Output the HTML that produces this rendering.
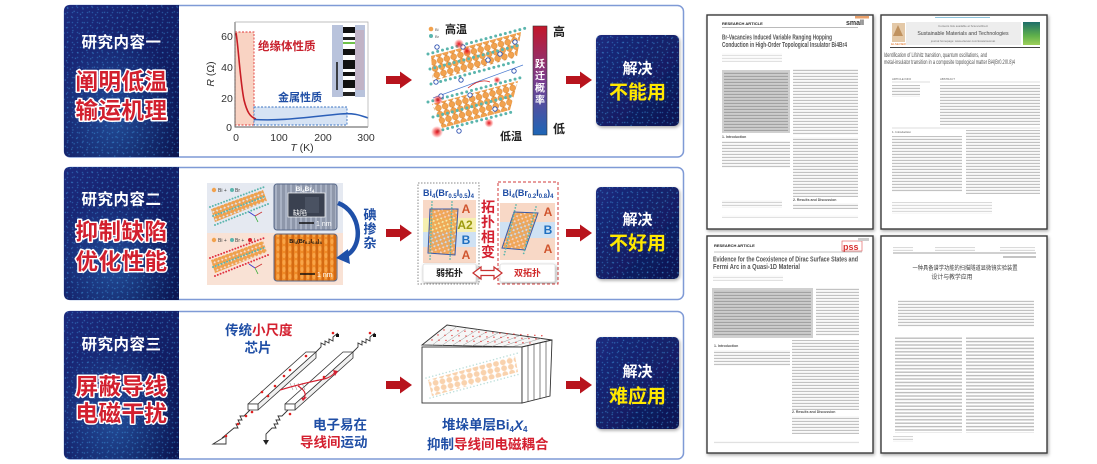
<!DOCTYPE html>
<html><head><meta charset="utf-8">
<style>
html,body{margin:0;padding:0;background:#fff;width:1097px;height:464px;overflow:hidden}
svg{display:block}
text{font-family:"Liberation Sans","Noto Sans CJK SC",sans-serif}
</style></head><body>
<svg width="1097" height="464" viewBox="0 0 1097 464" xmlns="http://www.w3.org/2000/svg">
<defs>
<linearGradient id="navy" x1="0" y1="0" x2="1" y2="1">
<stop offset="0" stop-color="#1c2b7e"/><stop offset="0.55" stop-color="#131f66"/><stop offset="1" stop-color="#0b1550"/>
</linearGradient>
<radialGradient id="glow" cx="0.45" cy="0.75" r="0.55"><stop offset="0" stop-color="#3a8ee0" stop-opacity="0.4"/><stop offset="1" stop-color="#3a8ee0" stop-opacity="0"/></radialGradient>
<pattern id="dots" width="5" height="5" patternUnits="userSpaceOnUse"><circle cx="2.5" cy="2.5" r="0.8" fill="#3fa9f5"/></pattern>
<pattern id="dots2" width="7" height="6" patternUnits="userSpaceOnUse" patternTransform="rotate(25)"><circle cx="2" cy="3" r="0.7" fill="#4fc0ff"/></pattern>
<linearGradient id="cbar" x1="0" y1="0" x2="0" y2="1"><stop offset="0" stop-color="#c3172a"/><stop offset="0.5" stop-color="#7a3d8e"/><stop offset="1" stop-color="#1d66b6"/></linearGradient>
<pattern id="ob" width="7" height="6.5" patternUnits="userSpaceOnUse" patternTransform="rotate(-15)"><circle cx="3.5" cy="3.25" r="3" fill="#f2a24e" stroke="#d47c26" stroke-width="0.5"/></pattern>
<pattern id="obs" width="4" height="4" patternUnits="userSpaceOnUse" patternTransform="rotate(-20)"><circle cx="2" cy="2" r="1.8" fill="#f3a24a" stroke="#d8842e" stroke-width="0.3"/></pattern>
<pattern id="obf" width="7" height="6" patternUnits="userSpaceOnUse" patternTransform="rotate(-12)"><circle cx="3.5" cy="3" r="2.9" fill="#f9d2ad"/></pattern>
<pattern id="stmg" width="5" height="4" patternUnits="userSpaceOnUse"><rect width="5" height="4" fill="#8e97aa"/><rect x="0" width="2" height="4" fill="#a9b2c4"/></pattern>
<pattern id="stmo" width="6" height="7" patternUnits="userSpaceOnUse"><rect width="6" height="7" fill="#ef8a27"/><rect x="3.5" width="2.5" height="7" fill="#d56a12"/><ellipse cx="2" cy="3.5" rx="1.6" ry="2.6" fill="#f8a548"/></pattern>
<pattern id="tl" width="10" height="3" patternUnits="userSpaceOnUse"><rect y="0.8" width="10" height="1.3" fill="#c2c2c2"/></pattern>
<pattern id="tld" width="10" height="3" patternUnits="userSpaceOnUse"><rect y="0.8" width="10" height="1.3" fill="#a2a2a2"/></pattern>
<pattern id="tlc" width="10" height="3.4" patternUnits="userSpaceOnUse"><rect y="0.9" width="10" height="1.4" fill="#bcbcbc"/></pattern>
<filter id="sh" x="-10%" y="-10%" width="120%" height="120%"><feDropShadow dx="1" dy="1.5" stdDeviation="1.5" flood-color="#000" flood-opacity="0.35"/></filter>
<radialGradient id="rg"><stop offset="0" stop-color="#e0101a"/><stop offset="0.5" stop-color="#f03030" stop-opacity="0.6"/><stop offset="1" stop-color="#ff4040" stop-opacity="0"/></radialGradient>
<linearGradient id="cover" x1="0" y1="0" x2="0" y2="1"><stop offset="0" stop-color="#1e6e6a"/><stop offset="0.6" stop-color="#5fb04a"/><stop offset="1" stop-color="#9ed05a"/></linearGradient>
</defs>

<!-- ================= PANELS ================= -->
<g fill="#fff" stroke="#7f9ad6" stroke-width="1.5">
<rect x="64.5" y="5.5" width="619" height="151.5" rx="6"/>
<rect x="64.5" y="167.5" width="619" height="132" rx="6"/>
<rect x="64.5" y="311.5" width="619" height="147.5" rx="6"/>
</g>

<!-- dark blocks -->
<g>
<path d="M70,5 H179 V157 H70 Q64,157 64,151 V11 Q64,5 70,5 Z" fill="url(#navy)"/>
<path d="M70,5 H179 V157 H70 Q64,157 64,151 V11 Q64,5 70,5 Z" fill="url(#glow)"/>
<path d="M70,5 H179 V157 H70 Q64,157 64,151 V11 Q64,5 70,5 Z" fill="url(#dots)" opacity="0.35"/>
<path d="M70,5 H179 V157 H70 Q64,157 64,151 V11 Q64,5 70,5 Z" fill="url(#dots2)" opacity="0.4"/>

<path d="M70,167 H179 V300 H70 Q64,300 64,294 V173 Q64,167 70,167 Z" fill="url(#navy)"/>
<path d="M70,167 H179 V300 H70 Q64,300 64,294 V173 Q64,167 70,167 Z" fill="url(#glow)"/>
<path d="M70,167 H179 V300 H70 Q64,300 64,294 V173 Q64,167 70,167 Z" fill="url(#dots)" opacity="0.35"/>
<path d="M70,167 H179 V300 H70 Q64,300 64,294 V173 Q64,167 70,167 Z" fill="url(#dots2)" opacity="0.4"/>

<path d="M70,311 H179 V459 H70 Q64,459 64,453 V317 Q64,311 70,311 Z" fill="url(#navy)"/>
<path d="M70,311 H179 V459 H70 Q64,459 64,453 V317 Q64,311 70,311 Z" fill="url(#glow)"/>
<path d="M70,311 H179 V459 H70 Q64,459 64,453 V317 Q64,311 70,311 Z" fill="url(#dots)" opacity="0.35"/>
<path d="M70,311 H179 V459 H70 Q64,459 64,453 V317 Q64,311 70,311 Z" fill="url(#dots2)" opacity="0.4"/>
</g>

<g text-anchor="middle" dominant-baseline="central" font-weight="bold">
<text x="121.5" y="43" font-size="15.5" fill="#fff" letter-spacing="0.5">研究内容一</text>
<text x="121.5" y="200" font-size="15.5" fill="#fff" letter-spacing="0.5">研究内容二</text>
<text x="121.5" y="345" font-size="15.5" fill="#fff" letter-spacing="0.5">研究内容三</text>
<g font-size="22.5" fill="#d21f2e" stroke="#fff" stroke-width="3" paint-order="stroke" stroke-linejoin="round" letter-spacing="0.5">
<text x="121.5" y="82">阐明低温</text>
<text x="121.5" y="111">输运机理</text>
<text x="121.5" y="232">抑制缺陷</text>
<text x="121.5" y="262">优化性能</text>
<text x="121.5" y="387">屏蔽导线</text>
<text x="121.5" y="414">电磁干扰</text>
</g>
</g>

<!-- ================= RESULT BOXES ================= -->
<g filter="url(#sh)">
<rect x="596" y="35" width="83" height="91" rx="5" fill="url(#navy)"/>
<rect x="596" y="187" width="83" height="92" rx="5" fill="url(#navy)"/>
<rect x="596" y="337" width="83" height="92" rx="5" fill="url(#navy)"/>
</g>
<g>
<rect x="596" y="35" width="83" height="91" rx="5" fill="url(#dots)" opacity="0.35"/>
<rect x="596" y="35" width="83" height="91" rx="5" fill="url(#dots2)" opacity="0.45"/>
<rect x="596" y="187" width="83" height="92" rx="5" fill="url(#dots)" opacity="0.35"/>
<rect x="596" y="187" width="83" height="92" rx="5" fill="url(#dots2)" opacity="0.45"/>
<rect x="596" y="337" width="83" height="92" rx="5" fill="url(#dots)" opacity="0.35"/>
<rect x="596" y="337" width="83" height="92" rx="5" fill="url(#dots2)" opacity="0.45"/>
</g>
<g text-anchor="middle" dominant-baseline="central" font-weight="bold">
<text x="637.5" y="69" font-size="15" fill="#fff">解决</text>
<text x="637.5" y="93" font-size="19" fill="#ffe800">不能用</text>
<text x="637.5" y="220" font-size="15" fill="#fff">解决</text>
<text x="637.5" y="244" font-size="19" fill="#ffe800">不好用</text>
<text x="637.5" y="372" font-size="15" fill="#fff">解决</text>
<text x="637.5" y="397" font-size="19" fill="#ffe800">难应用</text>
</g>

<!-- ================= RED ARROWS ================= -->
<g fill="#b8141d">
<polygon points="386,76 400,76 400,71.5 412,80 400,88.5 400,84 386,84"/>
<polygon points="566,76 580,76 580,71.5 592,80 580,88.5 580,84 566,84"/>
<polygon points="386,229 400,229 400,224.5 412,233 400,241.5 400,237 386,237"/>
<polygon points="566,229 580,229 580,224.5 592,233 580,241.5 580,237 566,237"/>
<polygon points="386,381 400,381 400,376.5 412,385 400,393.5 400,389 386,389"/>
<polygon points="566,381 580,381 580,376.5 592,385 580,393.5 580,389 566,389"/>
</g>

<!-- ================= ROW 1: CHART ================= -->
<g>
<rect x="235" y="32" width="19" height="93" fill="#f9d3c3" stroke="#e03a3a" stroke-width="0.9" stroke-dasharray="2,1.5"/>
<rect x="254" y="107" width="93" height="18" fill="#d6e3f4" stroke="#3c74c2" stroke-width="0.9" stroke-dasharray="2,1.5"/>
<path d="M236,33 C238,42 240,80 244,100 C247,112 250,117 256,119" fill="none" stroke="#c81d25" stroke-width="1.6"/>
<path d="M254,119.5 C280,121 300,118 340,114 C355,112.5 362,116 368,118" fill="none" stroke="#2b5fb8" stroke-width="1.6"/>
<path d="M235,22 V127 H368" fill="none" stroke="#555" stroke-width="0.9"/>
<path d="M235,22 H368 V127" fill="none" stroke="#aaa" stroke-width="0.7"/>
<rect x="332" y="25" width="33" height="72" fill="#b9c3dc"/>
<rect x="352" y="30" width="12" height="60" fill="#c7a8b8" opacity="0.6"/>
<rect x="343" y="25" width="12" height="72" fill="#fff"/>
<rect x="343" y="27" width="12" height="6" fill="#111"/>
<rect x="343" y="37" width="12" height="3" fill="#222"/>
<rect x="343" y="42" width="12" height="2" fill="#6fc24a"/>
<rect x="343" y="49" width="12" height="6" fill="#111"/>
<rect x="343" y="60" width="12" height="9" fill="#111"/>
<rect x="343" y="72" width="12" height="4" fill="#111"/>
<rect x="343" y="80" width="12" height="8" fill="#111"/>
<rect x="343" y="92" width="12" height="4" fill="#222"/>
<line x1="337" y1="62" x2="337" y2="90" stroke="#111" stroke-width="1.5"/>
<g font-size="10.5" fill="#333" text-anchor="middle">
<text x="227" y="40">60</text><text x="227" y="71">40</text><text x="227" y="102">20</text><text x="229" y="131">0</text>
<text x="236" y="141">0</text><text x="279" y="141">100</text><text x="323" y="141">200</text><text x="366" y="141">300</text>
<text x="302" y="151"><tspan font-style="italic">T</tspan> (K)</text>
<text transform="translate(214,74) rotate(-90)"><tspan font-style="italic">R</tspan> (Ω)</text>
</g>
<text x="258" y="47" font-size="11.5" font-weight="bold" fill="#c8202c" dominant-baseline="central">绝缘体性质</text>
<text x="278" y="98" font-size="11" font-weight="bold" fill="#1f4ea5" dominant-baseline="central">金属性质</text>
</g>

<!-- ================= ROW 1: CRYSTAL ================= -->
<g>
<circle cx="431" cy="29" r="2.3" fill="#f2a24e"/><text x="435" y="31" font-size="4" fill="#555">Bi</text>
<circle cx="431" cy="36" r="2" fill="#5ab5ad"/><text x="435" y="38" font-size="4" fill="#555">Br</text>
<text x="445" y="30" font-size="11" font-weight="bold" fill="#222" dominant-baseline="central">高温</text>
<text x="500" y="137" font-size="11" font-weight="bold" fill="#222" dominant-baseline="central">低温</text>
<polygon points="431,56 521,32 517,57 433,81" fill="url(#ob)"/>
<polygon points="432,104 518,81 510,110 442,128" fill="url(#ob)"/>
<g stroke="#5ab5ad" stroke-width="3" stroke-dasharray="0 5" stroke-linecap="round">
<line x1="428" y1="54" x2="526" y2="28"/>
<line x1="431" y1="84" x2="518" y2="61"/>
<line x1="430" y1="69" x2="520" y2="45"/>
<line x1="428" y1="102" x2="523" y2="77"/>
<line x1="438" y1="131" x2="512" y2="112"/>
<line x1="433" y1="117" x2="515" y2="95"/>
</g>
<line x1="433" y1="98" x2="523" y2="65" stroke="#4a7ad0" stroke-width="0.7"/>
<path d="M468,88 Q480,78 490,82" fill="none" stroke="#d02020" stroke-width="0.8"/>
<g fill="#fff" stroke="#2b4fb0" stroke-width="0.9">
<circle cx="437" cy="47" r="2.2"/><circle cx="436" cy="82" r="2.2"/><circle cx="441" cy="96" r="2.2"/>
<circle cx="488" cy="60" r="2.2"/><circle cx="500" cy="54" r="2.2"/><circle cx="515" cy="42" r="2.2"/>
<circle cx="463" cy="47" r="2.2"/><circle cx="470" cy="95" r="2.2"/><circle cx="495" cy="109" r="2.2"/>
<circle cx="459" cy="131" r="2.2"/><circle cx="514" cy="71" r="2.2"/><circle cx="461" cy="80" r="2.2"/>
</g>
<g>
<circle cx="459" cy="44" r="5" fill="url(#rg)"/><circle cx="467" cy="51" r="4.5" fill="url(#rg)"/>
<circle cx="438" cy="100" r="5" fill="url(#rg)"/><circle cx="489" cy="123" r="4.5" fill="url(#rg)"/>
<circle cx="437" cy="132" r="6" fill="url(#rg)"/><circle cx="497" cy="80" r="3.5" fill="url(#rg)"/>
</g>
<rect x="533" y="26" width="14" height="109" fill="url(#cbar)" stroke="#333" stroke-width="0.6"/>
<g font-size="10" fill="#fff" font-weight="bold" text-anchor="middle" dominant-baseline="central">
<text x="540" y="65">跃</text><text x="540" y="77">迁</text><text x="540" y="89">概</text><text x="540" y="101">率</text>
</g>
<text x="553" y="32" font-size="12" font-weight="bold" fill="#222" dominant-baseline="central">高</text>
<text x="553" y="129" font-size="12" font-weight="bold" fill="#222" dominant-baseline="central">低</text>
</g>

<!-- ================= ROW 2: COMPOSITE ================= -->
<g>
<rect x="207" y="183" width="136" height="50" fill="#e5e9f1"/>
<rect x="207" y="233" width="136" height="52" fill="#f9e2d5"/>
<circle cx="214" cy="190" r="2.2" fill="#f2a24e"/><text x="218" y="192" font-size="5" fill="#444">Bi + </text>
<circle cx="232" cy="190" r="2" fill="#5ab5ad"/><text x="235" y="192" font-size="5" fill="#444">Br</text>
<polygon points="211,209 263,190 267,201 215,222" fill="url(#obs)"/>
<g stroke="#5ab5ad" stroke-width="2" stroke-dasharray="0 3" stroke-linecap="round">
<line x1="210" y1="207" x2="264" y2="187"/><line x1="213" y1="216" x2="266" y2="196"/><line x1="215" y1="225" x2="268" y2="204"/>
</g>
<line x1="255" y1="216" x2="262" y2="212" stroke="#c33" stroke-width="0.8"/><line x1="255" y1="216" x2="258" y2="222" stroke="#3a3" stroke-width="0.8"/><line x1="255" y1="216" x2="249" y2="212" stroke="#33c" stroke-width="0.8"/>
<circle cx="214" cy="240" r="2.2" fill="#f2a24e"/><text x="218" y="242" font-size="5" fill="#444">Bi + </text>
<circle cx="232" cy="240" r="2" fill="#5ab5ad"/><text x="235" y="242" font-size="5" fill="#444">Br + </text>
<circle cx="250" cy="240" r="2" fill="#d8232f"/><text x="254" y="242" font-size="5" fill="#444">I</text>
<polygon points="211,260 263,241 267,252 215,273" fill="url(#obs)"/>
<g stroke="#e03040" stroke-width="2" stroke-dasharray="0 3" stroke-linecap="round">
<line x1="210" y1="258" x2="264" y2="238"/><line x1="215" y1="276" x2="268" y2="255"/>
</g>
<line x1="213" y1="267" x2="266" y2="247" stroke="#5ab5ad" stroke-width="2" stroke-dasharray="0 3" stroke-linecap="round"/>
<line x1="255" y1="268" x2="262" y2="264" stroke="#c33" stroke-width="0.8"/><line x1="255" y1="268" x2="258" y2="274" stroke="#3a3" stroke-width="0.8"/><line x1="255" y1="268" x2="249" y2="264" stroke="#33c" stroke-width="0.8"/>
<rect x="274" y="184" width="63" height="46" rx="3" fill="url(#stmg)" stroke="#5a6b8c" stroke-width="1"/>
<rect x="288" y="193" width="37" height="24" fill="#3a4150" stroke="#fff" stroke-width="0.7"/>
<rect x="305" y="197" width="14" height="16" fill="#4a5262"/>
<text x="305" y="191" font-size="6.5" fill="#fff" font-weight="bold" text-anchor="middle">Bi<tspan font-size="4.5" dy="1.5">4</tspan><tspan dy="-1.5">Br</tspan><tspan font-size="4.5" dy="1.5">4</tspan></text>
<text x="300" y="215" font-size="7" fill="#fff" text-anchor="middle">缺陷</text>
<line x1="299" y1="223" x2="314" y2="223" stroke="#111" stroke-width="1.5"/>
<text x="316" y="226" font-size="7" fill="#fff">1 nm</text>
<rect x="274" y="234" width="63" height="47" rx="3" fill="url(#stmo)" stroke="#5a6b8c" stroke-width="1"/>
<text x="305.5" y="243" font-size="5.5" fill="#111" font-weight="bold" text-anchor="middle">Bi<tspan font-size="4" dy="1">4</tspan><tspan dy="-1">(Br</tspan><tspan font-size="4" dy="1">0.2</tspan><tspan dy="-1">I</tspan><tspan font-size="4" dy="1">0.8</tspan><tspan dy="-1">)</tspan><tspan font-size="4" dy="1">4</tspan></text>
<line x1="300" y1="274" x2="315" y2="274" stroke="#111" stroke-width="1.5"/>
<text x="317" y="277" font-size="7" fill="#fff">1 nm</text>
<path d="M338,203 C362,212 364,248 345,256" fill="none" stroke="#1f50a8" stroke-width="4.5"/>
<polygon points="336,258 348,249 350,264" fill="#1f50a8"/>
<g font-size="13" font-weight="bold" fill="#1f4ea5" text-anchor="middle" dominant-baseline="central">
<text x="370" y="215">碘</text><text x="370" y="229">掺</text><text x="370" y="243">杂</text>
</g>
</g>

<!-- ================= ROW 2: PHASES ================= -->
<g>
<rect x="418" y="183" width="61" height="101" fill="none" stroke="#888" stroke-width="1" stroke-dasharray="1.5,1.5"/>
<rect x="498" y="182" width="60" height="102" fill="none" stroke="#d03838" stroke-width="1" stroke-dasharray="3,2"/>
<text x="448.5" y="196" font-size="9" fill="#1f4ea5" font-weight="bold" text-anchor="middle">Bi<tspan font-size="6" dy="2">4</tspan><tspan dy="-2">(Br</tspan><tspan font-size="6" dy="2">0.5</tspan><tspan dy="-2">I</tspan><tspan font-size="6" dy="2">0.5</tspan><tspan dy="-2">)</tspan><tspan font-size="6" dy="2">4</tspan></text>
<text x="528" y="196" font-size="9" fill="#1f4ea5" font-weight="bold" text-anchor="middle">Bi<tspan font-size="6" dy="2">4</tspan><tspan dy="-2">(Br</tspan><tspan font-size="6" dy="2">0.2</tspan><tspan dy="-2">I</tspan><tspan font-size="6" dy="2">0.8</tspan><tspan dy="-2">)</tspan><tspan font-size="6" dy="2">4</tspan></text>
<rect x="423" y="200" width="53" height="18" fill="#f8d8c6"/>
<rect x="423" y="218" width="53" height="14" fill="#f6efb0"/>
<rect x="423" y="232" width="53" height="15" fill="#cfe1f3"/>
<rect x="423" y="247" width="53" height="16" fill="#f8d8c6"/>
<polygon points="430,209 458,209 455,255 428,253" fill="url(#obs)" opacity="0.9"/>
<polygon points="430,209 458,209 455,255 428,253" fill="none" stroke="#3b5ba8" stroke-width="1"/>
<g stroke="#5ab5ad" stroke-width="1.8" stroke-dasharray="0 3" stroke-linecap="round">
<line x1="432" y1="202" x2="430" y2="260"/><line x1="452" y1="202" x2="450" y2="260"/>
</g>
<g font-size="12" font-weight="bold" text-anchor="middle" dominant-baseline="central">
<text x="466" y="209" fill="#d0552e">A</text>
<text x="465" y="225" fill="#9c9a0e">A2</text>
<text x="466" y="240" fill="#1f6fc0">B</text>
<text x="466" y="255" fill="#d0552e">A</text>
</g>
<rect x="500" y="203" width="55" height="19" fill="#f8d8c6"/>
<rect x="500" y="222" width="55" height="16" fill="#cfe1f3"/>
<rect x="500" y="238" width="55" height="22" fill="#f8d8c6"/>
<polygon points="514,212 538,213 525,250 502,248" fill="url(#obs)" opacity="0.9"/>
<polygon points="514,212 538,213 525,250 502,248" fill="none" stroke="#3b5ba8" stroke-width="1"/>
<g stroke="#5ab5ad" stroke-width="1.8" stroke-dasharray="0 3" stroke-linecap="round">
<line x1="516" y1="205" x2="504" y2="256"/><line x1="536" y1="207" x2="523" y2="256"/>
</g>
<g font-size="12" font-weight="bold" text-anchor="middle" dominant-baseline="central">
<text x="548" y="212" fill="#d0552e">A</text>
<text x="548" y="230" fill="#1f6fc0">B</text>
<text x="548" y="249" fill="#d0552e">A</text>
</g>
<rect x="423" y="264" width="53" height="18" rx="2" fill="#fff" stroke="#ddd" stroke-width="0.8" filter="url(#sh)"/>
<rect x="500" y="264" width="55" height="18" rx="2" fill="#fff" stroke="#ddd" stroke-width="0.8" filter="url(#sh)"/>
<text x="449.5" y="273" font-size="9" font-weight="bold" fill="#222" text-anchor="middle" dominant-baseline="central">弱拓扑</text>
<text x="527.5" y="273" font-size="9" font-weight="bold" fill="#d02a2a" text-anchor="middle" dominant-baseline="central">双拓扑</text>
<polygon points="473,273 481,267 481,270.5 494,270.5 494,267 502,273 494,279 494,275.5 481,275.5 481,279" fill="#fff" stroke="#c83030" stroke-width="1.2"/>
<g font-size="14" font-weight="bold" fill="#d42030" text-anchor="middle" dominant-baseline="central">
<text x="488" y="207">拓</text><text x="488" y="222">扑</text><text x="488" y="237">相</text><text x="488" y="252">变</text>
</g>
</g>

<!-- ================= ROW 3: WIRES ================= -->
<g>
<text x="225" y="330" font-size="13.5" font-weight="bold" dominant-baseline="central"><tspan fill="#1f4ea5">传统</tspan><tspan fill="#d42030">小尺度</tspan></text>
<text x="258" y="348" font-size="13.5" font-weight="bold" fill="#1f4ea5" text-anchor="middle" dominant-baseline="central">芯片</text>
<text x="313" y="425" font-size="13.5" font-weight="bold" fill="#1f4ea5" dominant-baseline="central">电子易在</text>
<text x="300" y="442" font-size="13.5" font-weight="bold" dominant-baseline="central"><tspan fill="#d42030">导线间</tspan><tspan fill="#1f4ea5">运动</tspan></text>
<g stroke="#333" stroke-width="0.8" stroke-linejoin="round">
<polygon points="248,404 306,352 316,352 258,404" fill="#fff"/>
<polygon points="258,404 316,352 316,358 258,410" fill="#f0f0f0"/>
<polygon points="248,404 258,404 258,410 248,410" fill="#fff"/>
<polygon points="285,404 343,352 353,352 295,404" fill="#fff"/>
<polygon points="295,404 353,352 353,358 295,410" fill="#f0f0f0"/>
<polygon points="285,404 295,404 295,410 285,410" fill="#fff"/>
</g>
<g fill="none" stroke="#333" stroke-width="0.9">
<polyline points="316,352 321,347 321,343 325,345 325,341 329,343 329,339 333,341 333,337 338,333"/>
<polyline points="353,352 358,347 358,343 362,345 362,341 366,343 366,339 370,341 370,337 375,333"/>
<polyline points="250,410 244,416 240,416 242,420 238,420 240,424 236,424 238,428 234,428 222,438"/>
<polygon points="213,444 226,436 226,444"/>
<polyline points="288,410 282,416 278,416 280,420 276,420 278,424 274,424 276,428 272,428 266,434 266,441"/>
</g>
<polygon points="263,440 269,440 266,445" fill="#222"/>
<rect x="336" y="334" width="3" height="3" fill="#111"/><rect x="373" y="334" width="3" height="3" fill="#111"/>
<g fill="#e02020">
<circle cx="333" cy="333" r="1.3"/><circle cx="370" cy="333" r="1.3"/>
<circle cx="306" cy="356" r="1.3"/><circle cx="284" cy="376" r="1.3"/><circle cx="290" cy="370" r="1.3"/>
<circle cx="275" cy="386" r="1.3"/><circle cx="268" cy="396" r="1.3"/><circle cx="262" cy="392" r="1.3"/>
<circle cx="324" cy="377" r="1.3"/><circle cx="252" cy="412" r="1.3"/><circle cx="246" cy="416" r="1.3"/>
<circle cx="238" cy="424" r="1.3"/><circle cx="226" cy="436" r="1.3"/><circle cx="290" cy="414" r="1.3"/>
</g>
<g stroke="#999" stroke-width="0.6">
<line x1="290" y1="383" x2="293" y2="390"/><line x1="294" y1="383" x2="297" y2="390"/><line x1="298" y1="383" x2="301" y2="390"/><line x1="302" y1="383" x2="305" y2="390"/>
</g>
<path d="M280,390 Q300,384 324,379 Q332,377 335,372" fill="none" stroke="#d42030" stroke-width="1.2"/>
<polygon points="333,370 338,371 335,376" fill="#d42030"/>
<path d="M298,386 Q308,392 304,398" fill="none" stroke="#d42030" stroke-width="1.2"/>
<polygon points="301,398 307,397 303,401" fill="#d42030"/>
</g>

<!-- ================= ROW 3: BLOCK ================= -->
<g>
<polygon points="422,345 447,325 552,340 522,347" fill="#f6f6f6" stroke="#333" stroke-width="0.9"/>
<g stroke="#999" stroke-width="0.5">
<line x1="432" y1="345.2" x2="457" y2="326.5"/><line x1="442" y1="345.4" x2="467" y2="328"/><line x1="452" y1="345.6" x2="478" y2="329.5"/>
<line x1="462" y1="345.8" x2="488" y2="331"/><line x1="472" y1="346" x2="499" y2="332.5"/><line x1="482" y1="346.2" x2="509" y2="334"/>
<line x1="492" y1="346.4" x2="520" y2="335.5"/><line x1="502" y1="346.6" x2="530" y2="337"/><line x1="512" y1="346.8" x2="541" y2="338.5"/>
</g>
<g stroke="#e03030" stroke-width="1.4" stroke-dasharray="0 7" stroke-linecap="round">
<line x1="432" y1="340" x2="532" y2="343"/><line x1="438" y1="335" x2="540" y2="339"/><line x1="444" y1="330" x2="546" y2="336"/>
</g>
<rect x="422" y="347" width="100" height="56" fill="#fff" stroke="#333" stroke-width="0.9"/>
<polygon points="428,380 515,356 518,372 432,396" fill="url(#obf)"/>
<g stroke="#bfe0dc" stroke-width="1.6" stroke-dasharray="0 3.5" stroke-linecap="round">
<line x1="426" y1="378" x2="518" y2="353"/><line x1="430" y1="398" x2="520" y2="374"/>
</g>
<polygon points="522,347 552,340 550,396 522,403" fill="#fff" stroke="#333" stroke-width="0.9"/>
<g stroke="#333" stroke-width="0.6">
<line x1="528" y1="345.6" x2="528" y2="401.6"/><line x1="534" y1="344.2" x2="534" y2="400.2"/><line x1="540" y1="342.8" x2="540" y2="398.8"/><line x1="546" y1="341.4" x2="546" y2="397.4"/>
</g>
<text x="442" y="425" font-size="13.5" font-weight="bold" fill="#1f4ea5" dominant-baseline="central">堆垛单层Bi<tspan font-size="8" dy="4">4</tspan><tspan dy="-4" font-style="italic">X</tspan><tspan font-size="8" dy="4">4</tspan></text>
<text x="427" y="444" font-size="13.5" font-weight="bold" dominant-baseline="central"><tspan fill="#1f4ea5">抑制</tspan><tspan fill="#d42030">导线间电磁耦合</tspan></text>
</g>

<!-- ================= PAPERS ================= -->
<g>
<rect x="707" y="15" width="166" height="214" fill="#fff" stroke="#3a3a3a" stroke-width="1.4" filter="url(#sh)"/>
<text x="722" y="25" font-size="4" font-weight="bold" fill="#222">RESEARCH ARTICLE</text>
<text x="846" y="25" font-size="7" font-weight="bold" fill="#333">small</text>
<rect x="855" y="16" width="14" height="2.5" fill="#e9a06a"/>
<line x1="722" y1="27.5" x2="858" y2="27.5" stroke="#777" stroke-width="0.5"/>
<text x="722" y="39.5" font-size="7" font-weight="bold" fill="#555" textLength="110" lengthAdjust="spacingAndGlyphs">Br-Vacancies Induced Variable Ranging Hopping</text>
<text x="722" y="47" font-size="7" font-weight="bold" fill="#555" textLength="125" lengthAdjust="spacingAndGlyphs">Conduction in High-Order Topological Insulator Bi4Br4</text>
<rect x="722" y="53" width="60" height="9" fill="url(#tl)" opacity="0.5"/>
<rect x="722" y="70" width="68" height="63" fill="#d0d0d0"/>
<rect x="724" y="72" width="64" height="59" fill="url(#tld)"/>
<rect x="793" y="69" width="65" height="66" fill="url(#tl)"/>
<rect x="793" y="137" width="65" height="60" fill="url(#tl)"/>
<text x="793" y="201" font-size="3.5" font-weight="bold" fill="#555">2. Results and Discussion</text>
<rect x="793" y="203" width="65" height="6" fill="url(#tl)"/>
<text x="722" y="138" font-size="3.5" font-weight="bold" fill="#555">1. Introduction</text>
<rect x="722" y="141" width="68" height="27" fill="url(#tl)"/>
<rect x="722" y="200" width="60" height="8" fill="url(#tl)" opacity="0.7"/>
<rect x="722" y="215" width="136" height="3" fill="url(#tl)" opacity="0.5"/>
</g>
<g>
<rect x="881" y="15" width="166" height="214" fill="#fff" stroke="#3a3a3a" stroke-width="1.4" filter="url(#sh)"/>
<rect x="935" y="17" width="55" height="1" fill="#8cc4dc"/>
<rect x="892" y="23" width="13" height="19" fill="#e4c9a8"/>
<path d="M898,25 L893,36 H903 Z" fill="#b07a40" opacity="0.7"/>
<text x="898.5" y="45" font-size="3" fill="#e07020" text-anchor="middle">ELSEVIER</text>
<rect x="906" y="22" width="115" height="23" fill="#ededed"/>
<text x="963" y="27" font-size="2.8" fill="#777" text-anchor="middle">Contents lists available at ScienceDirect</text>
<text x="963" y="35" font-size="5.2" fill="#444" text-anchor="middle" font-family="Liberation Serif, serif">Sustainable Materials and Technologies</text>
<text x="963" y="42" font-size="2.8" fill="#777" text-anchor="middle">journal homepage: www.elsevier.com/locate/susmat</text>
<rect x="1023" y="22" width="17" height="23" fill="url(#cover)"/>
<line x1="890" y1="47.5" x2="1040" y2="47.5" stroke="#444" stroke-width="1"/>
<text x="884" y="57" font-size="6" fill="#555" font-family="Liberation Serif, serif" textLength="103" lengthAdjust="spacingAndGlyphs">Identification of Lifshitz transition, quantum oscillations, and</text>
<text x="884" y="64" font-size="6" fill="#555" font-family="Liberation Serif, serif" textLength="131" lengthAdjust="spacingAndGlyphs">metal-insulator transition in a composite topological matter Bi4(Br0.2I0.8)4</text>
<text x="892" y="80" font-size="2.8" fill="#666">ARTICLE INFO</text>
<text x="940" y="80" font-size="2.8" fill="#666">ABSTRACT</text>
<line x1="892" y1="82" x2="930" y2="82" stroke="#aaa" stroke-width="0.4"/>
<line x1="940" y1="82" x2="1040" y2="82" stroke="#aaa" stroke-width="0.4"/>
<rect x="892" y="85" width="28" height="12" fill="url(#tl)"/>
<rect x="940" y="85" width="100" height="40" fill="url(#tl)"/>
<line x1="892" y1="128" x2="1040" y2="128" stroke="#aaa" stroke-width="0.4"/>
<text x="892" y="133" font-size="3" fill="#555">1. Introduction</text>
<rect x="892" y="136" width="70" height="56" fill="url(#tl)"/>
<rect x="966" y="130" width="74" height="64" fill="url(#tl)"/>
<rect x="892" y="202" width="100" height="12" fill="url(#tl)" opacity="0.6"/>
</g>
<g>
<rect x="707" y="236" width="166" height="217" fill="#fff" stroke="#3a3a3a" stroke-width="1.4" filter="url(#sh)"/>
<text x="714" y="247" font-size="4" font-weight="bold" fill="#222">RESEARCH ARTICLE</text>
<rect x="842" y="241" width="20" height="10" fill="none" stroke="#e05050" stroke-width="0.6"/>
<text x="843" y="250" font-size="9" font-weight="bold" fill="#d83030">pss</text>
<rect x="858" y="238" width="11" height="3" fill="#ccc"/>
<line x1="714" y1="252" x2="862" y2="252" stroke="#888" stroke-width="0.5"/>
<text x="713" y="261.5" font-size="7" font-weight="bold" fill="#555" textLength="145" lengthAdjust="spacingAndGlyphs">Evidence for the Coexistence of Dirac Surface States and</text>
<text x="713" y="269" font-size="7" font-weight="bold" fill="#555" textLength="87" lengthAdjust="spacingAndGlyphs">Fermi Arc in a Quasi-1D Material</text>
<rect x="713" y="275" width="70" height="6" fill="url(#tl)" opacity="0.5"/>
<rect x="712" y="288" width="101" height="50" fill="#d0d0d0"/>
<rect x="714" y="290" width="97" height="46" fill="url(#tld)"/>
<rect x="816" y="288" width="43" height="48" fill="url(#tl)"/>
<text x="714" y="347" font-size="3.5" font-weight="bold" fill="#555">1. Introduction</text>
<rect x="714" y="350" width="76" height="16" fill="url(#tl)"/>
<rect x="792" y="340" width="67" height="70" fill="url(#tl)"/>
<text x="792" y="413" font-size="3.5" font-weight="bold" fill="#555">2. Results and Discussion</text>
<rect x="792" y="416" width="67" height="18" fill="url(#tl)"/>
<rect x="714" y="441" width="145" height="3" fill="url(#tl)" opacity="0.5"/>
</g>
<g>
<rect x="881" y="236" width="166" height="217" fill="#fff" stroke="#3a3a3a" stroke-width="1.4" filter="url(#sh)"/>
<rect x="893" y="247" width="20" height="4" fill="url(#tl)" opacity="0.6"/>
<rect x="935" y="247" width="40" height="4" fill="url(#tl)" opacity="0.6"/>
<rect x="1000" y="247" width="35" height="4" fill="url(#tl)" opacity="0.6"/>
<line x1="893" y1="253" x2="1036" y2="253" stroke="#444" stroke-width="0.6"/>
<rect x="1003" y="256" width="33" height="2" fill="#c4c4c4"/>
<text x="965" y="270" font-size="6.2" fill="#444" text-anchor="middle" textLength="105" lengthAdjust="spacingAndGlyphs">一种具备谱学功能的扫描隧道显微镜实验装置</text>
<text x="952" y="279" font-size="6.2" fill="#444" text-anchor="middle" textLength="41" lengthAdjust="spacingAndGlyphs">设计与教学应用</text>
<rect x="898" y="300" width="136" height="27" fill="url(#tl)"/>
<rect x="895" y="337" width="67" height="96" fill="url(#tlc)"/>
<rect x="966" y="337" width="68" height="96" fill="url(#tlc)"/>
<rect x="893" y="436" width="20" height="6" fill="url(#tl)" opacity="0.7"/>
</g>
</svg>
</body></html>
